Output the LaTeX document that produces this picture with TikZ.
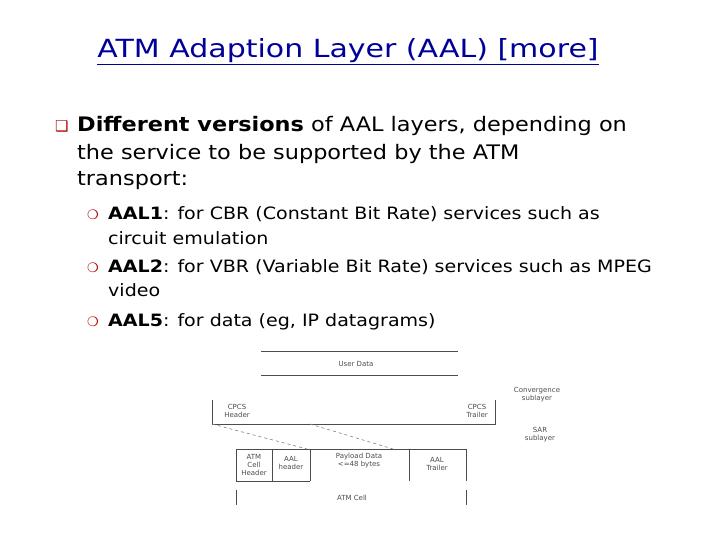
\documentclass[tikz,border=0pt]{standalone}
\usepackage{fontspec}
\usepackage{graphicx}
\setmainfont{DejaVu Sans}
\newcommand{\wideA}[1]{\scalebox{1.12}[1]{#1}}
\newcommand{\wideB}[1]{\scalebox{1.12}[1]{#1}}
\begin{document}
\begin{tikzpicture}[x=1pt,y=-1pt,
  main/.style={anchor=base west,inner sep=0pt,font=\fontsize{20}{22}\selectfont},
  sub/.style={anchor=base west,inner sep=0pt,font=\fontsize{17}{19}\selectfont},
  bul/.style={anchor=base west,inner sep=0pt,text=red!70!black},
  tiny/.style={inner sep=0pt,font=\fontsize{7}{8}\selectfont,align=center,text=black!70},
  ln/.style={draw=black!70,line width=0.6pt}]
\useasboundingbox (0,0) rectangle (720,540);
\node[inner sep=0pt,text=blue!60!black,font=\fontsize{25}{28}\selectfont] (title) at (348,52) {\scalebox{1.2}[1]{\underline{ATM Adaption Layer (AAL) [more]}}};
\node[bul,font=\fontsize{15}{16}\selectfont] (b1) at (55,132) {❑};
\node[main] (t1) at (77,132) {\wideA{\textbf{Different versions} of AAL layers, depending on}};
\node[main] (t2) at (77,160) {\wideA{the service to be supported by the ATM}};
\node[main] (t3) at (77,186) {\wideA{transport:}};
\node[bul,font=\fontsize{13}{14}\selectfont] (s1) at (87,220) {❍};
\node[sub] (u1) at (108,220) {\wideB{\textbf{AAL1}: for CBR (Constant Bit Rate) services such as}};
\node[sub] (u1b) at (108,244) {\wideB{circuit emulation}};
\node[bul,font=\fontsize{13}{14}\selectfont] (s2) at (87,272) {❍};
\node[sub] (u2) at (108,272) {\wideB{\textbf{AAL2}: for VBR (Variable Bit Rate) services such as MPEG}};
\node[sub] (u2b) at (108,296) {\wideB{video}};
\node[bul,font=\fontsize{13}{14}\selectfont] (s3) at (87,326) {❍};
\node[sub] (u3) at (108,326) {\wideB{\textbf{AAL5}: for data (eg, IP datagrams)}};
% diagram
\draw[ln] (261,351) -- (458,351) (261,375) -- (458,375);
\node[tiny] (ud) at (356,364) {User Data};
\draw[ln] (212,400) -- (212,424) -- (495,424) -- (495,400);
\node[tiny] (ch) at (237,411) {CPCS\\Header};
\node[tiny] (ct) at (477,411) {CPCS\\Trailer};
\node[tiny] (cs) at (537,395) {Convergence\\sublayer};
\node[tiny] (sar) at (540,435) {SAR\\sublayer};
\coordinate (d1a) at (212,424); \coordinate (d1b) at (307,449);
\coordinate (d2a) at (310,424); \coordinate (d2b) at (393,449);
\draw[ln,dashed,draw=black!50] (d1a) -- (d1b) (d2a) -- (d2b);
\draw[ln] (236,481) -- (236,449) -- (466,449) -- (466,481);
\draw[ln] (236,481) -- (310,481);
\draw[ln] (272,449) -- (272,481) (310,449) -- (310,481) (409,449) -- (409,481);
\node[tiny] (h1) at (254,465) {ATM\\Cell\\Header};
\node[tiny] (h2) at (291,463) {AAL\\header};
\node[tiny] (h3) at (359,461) {Payload Data\\<=48 bytes};
\node[tiny] (h4) at (437,464) {AAL\\Trailer};
\draw[ln] (236,490) -- (236,505) (466,490) -- (466,505);
\node[tiny] (cell) at (352,498) {ATM Cell};
\end{tikzpicture}
\end{document}
